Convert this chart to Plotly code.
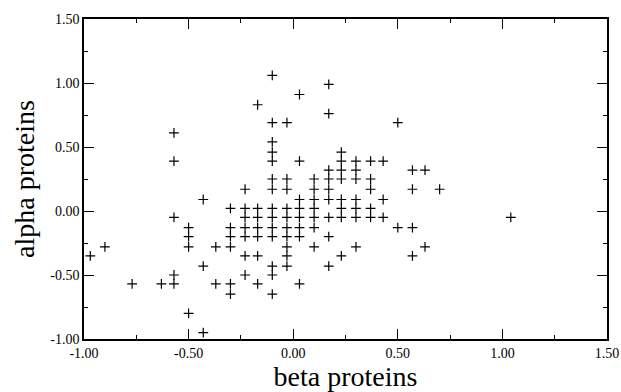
import plotly.graph_objects as go

# beta proteins (x) values, alpha proteins (y) values, read column by column
beta = [
    -0.97,
    -0.90,
    -0.77,
    -0.63,
    -0.57, -0.57, -0.57, -0.57, -0.57,
    -0.50, -0.50, -0.50, -0.50,
    -0.43, -0.43, -0.43,
    -0.37, -0.37,
    -0.30, -0.30, -0.30, -0.30, -0.30, -0.30,
    -0.23, -0.23, -0.23, -0.23, -0.23, -0.23, -0.23,
    -0.17, -0.17, -0.17, -0.17, -0.17, -0.17, -0.17,
    -0.10, -0.10, -0.10, -0.10, -0.10, -0.10, -0.10, -0.10, -0.10, -0.10, -0.10, -0.10, -0.10, -0.10,
    -0.03, -0.03, -0.03, -0.03, -0.03, -0.03, -0.03, -0.03, -0.03, -0.03,
    0.03, 0.03, 0.03, 0.03, 0.03, 0.03, 0.03, 0.03,
    0.10, 0.10, 0.10, 0.10, 0.10, 0.10, 0.10,
    0.17, 0.17, 0.17, 0.17, 0.17, 0.17, 0.17, 0.17, 0.17,
    0.23, 0.23, 0.23, 0.23, 0.23, 0.23, 0.23, 0.23,
    0.30, 0.30, 0.30, 0.30, 0.30, 0.30, 0.30,
    0.37, 0.37, 0.37, 0.37, 0.37,
    0.43, 0.43, 0.43,
    0.50, 0.50,
    0.57, 0.57, 0.57, 0.57,
    0.63, 0.63,
    0.70,
    1.04,
]
alpha = [
    -0.35,
    -0.28,
    -0.57,
    -0.57,
    0.61, 0.39, -0.05, -0.50, -0.57,
    -0.13, -0.20, -0.28, -0.80,
    0.09, -0.43, -0.95,
    -0.28, -0.57,
    0.02, -0.13, -0.20, -0.28, -0.57, -0.65,
    0.17, 0.02, -0.05, -0.13, -0.20, -0.35, -0.50,
    0.83, 0.02, -0.05, -0.13, -0.20, -0.35, -0.57,
    1.06, 0.69, 0.54, 0.46, 0.39, 0.25, 0.17, 0.02, -0.05, -0.13, -0.20, -0.43, -0.50, -0.65,
    0.69, 0.25, 0.17, 0.02, -0.05, -0.13, -0.20, -0.28, -0.35, -0.43,
    0.91, 0.39, 0.09, 0.02, -0.05, -0.13, -0.20, -0.57,
    0.25, 0.17, 0.09, 0.02, -0.05, -0.13, -0.28,
    0.99, 0.76, 0.32, 0.25, 0.17, 0.09, -0.05, -0.20, -0.43,
    0.46, 0.39, 0.32, 0.25, 0.09, 0.02, -0.05, -0.35,
    0.39, 0.32, 0.25, 0.09, 0.02, -0.05, -0.28,
    0.39, 0.25, 0.17, 0.02, -0.05,
    0.39, 0.09, -0.05,
    0.69, -0.13,
    0.32, 0.17, -0.13, -0.35,
    0.32, -0.28,
    0.17,
    -0.05,
]

tick_vals = [-1.0, -0.5, 0.0, 0.5, 1.0, 1.5]
tick_text = ["-1.00", "-0.50", "0.00", "0.50", "1.00", "1.50"]

fig = go.Figure()
fig.add_trace(go.Scatter(
    x=beta, y=alpha, mode="markers",
    marker=dict(symbol="cross-thin", size=7, line=dict(width=1.2, color="black"), color="black"),
    showlegend=False,
))

font_family = "Liberation Serif, Times New Roman, serif"
axis_common = dict(
    showgrid=False, zeroline=False, automargin=False,
    showline=True, linecolor="black", linewidth=1.5, mirror="allticks",
    ticks="inside", ticklen=10, tickwidth=1, tickcolor="black",
    minor=dict(ticks="inside", ticklen=4, tickwidth=1, tickcolor="black", dtick=0.25, tick0=0),
    tickvals=tick_vals, ticktext=tick_text,
    tickfont=dict(family=font_family, size=14, color="black"),
)

fig.update_layout(
    width=621, height=392,
    margin=dict(l=84, r=14, t=19, b=53),
    paper_bgcolor="white", plot_bgcolor="white",
    xaxis=dict(range=[-1.0, 1.5], title=dict(text="beta proteins", font=dict(family=font_family, size=28, color="black"), standoff=8), **axis_common),
    yaxis=dict(range=[-1.0, 1.5], title=dict(text="alpha proteins", font=dict(family=font_family, size=28, color="black"), standoff=7), **axis_common),
)

fig.write_html("out.html")
